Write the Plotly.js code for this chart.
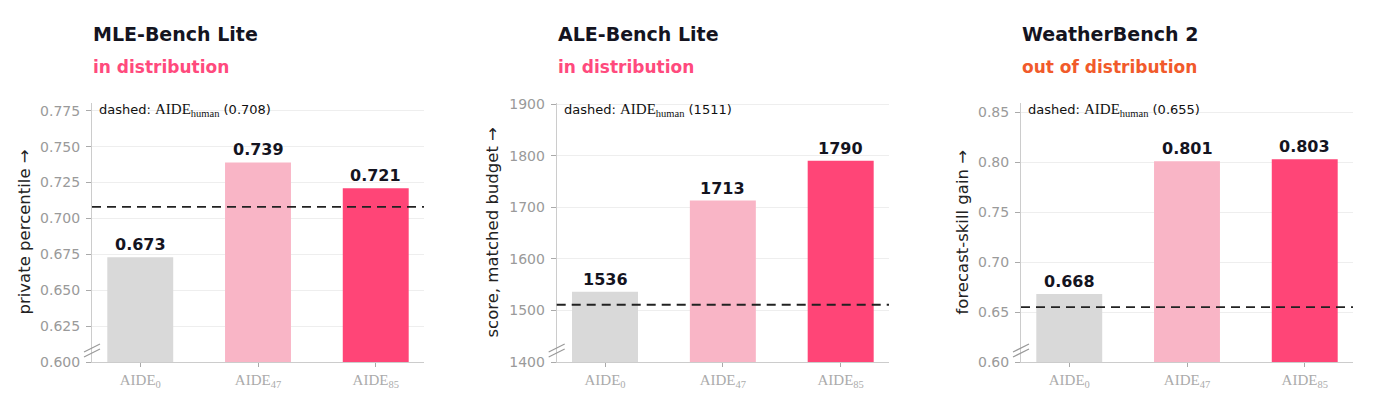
<!DOCTYPE html>
<html>
<head>
<meta charset="utf-8">
<script src="https://cdn.plot.ly/plotly-3.0.1.min.js"></script>
<style>html,body{margin:0;padding:0;background:#fff;}#chart{width:1391px;height:405px;}</style>
</head>
<body>
<div id="chart"></div>
<script>
// ---- data ----
const categories = ['AIDE<sub>0</sub>', 'AIDE<sub>47</sub>', 'AIDE<sub>85</sub>'];
const mleValues = [0.673, 0.739, 0.721];
const aleValues = [1536, 1713, 1790];
const weatherValues = [0.668, 0.801, 0.803];
const humanBaselines = [0.708, 1511, 0.655];
const panelTitles = ['MLE-Bench Lite', 'ALE-Bench Lite', 'WeatherBench 2'];
const panelSubtitles = ['in distribution', 'in distribution', 'out of distribution'];
const yTitles = ['private percentile →', 'score, matched budget →', 'forecast-skill gain →'];
const mleTicks = [0.600, 0.625, 0.650, 0.675, 0.700, 0.725, 0.750, 0.775];
const aleTicks = [1400, 1500, 1600, 1700, 1800, 1900];
const weatherTicks = [0.60, 0.65, 0.70, 0.75, 0.80, 0.85];

// ---- layout helpers ----
const W = 1391, H = 405;
const px = x => x / W;
const py = y => 1 - y / H;
const barColors = ['#d9d9d9', '#f9b5c6', '#ff4577'];
const subColors = ['#ff4a7d', '#ff4a7d', '#f15a2b'];
const panels = [
  {vals: mleValues, ticks: mleTicks, fmt: v => v.toFixed(3), tfmt: '.3f', range: [0.6, 0.7804], left: 92, right: 424, ytx: 24},
  {vals: aleValues, ticks: aleTicks, fmt: v => String(v), tfmt: 'd', range: [1400, 1902], left: 556.7, right: 889, ytx: 492},
  {vals: weatherValues, ticks: weatherTicks, fmt: v => v.toFixed(3), tfmt: '.2f', range: [0.6, 0.8593], left: 1021, right: 1353, ytx: 962}
];
const plotTop = 103, plotBottom = 362;

const traces = [];
const layout = {
  width: W, height: H,
  margin: {l: 0, r: 0, t: 0, b: 0},
  paper_bgcolor: '#ffffff', plot_bgcolor: '#ffffff',
  showlegend: false,
  annotations: [], shapes: [],
  font: {family: 'DejaVu Sans', color: '#222'}
};

panels.forEach((p, i) => {
  const n = i === 0 ? '' : String(i + 1);
  const xa = 'x' + n, ya = 'y' + n;
  traces.push({
    type: 'bar', x: [0, 1, 2], y: p.vals, xaxis: xa, yaxis: ya,
    width: 0.56, marker: {color: barColors, line: {width: 0}},
    hoverinfo: 'skip'
  });
  layout['xaxis' + n] = {
    domain: [px(p.left), px(p.right)], anchor: ya,
    range: [-0.41, 2.41], tickvals: [0, 1, 2], ticktext: categories,
    showline: true, linecolor: '#cccccc', linewidth: 1,
    ticks: 'outside', ticklen: 4, tickcolor: '#aaaaaa', tickwidth: 1,
    showgrid: false, zeroline: false, fixedrange: true,
    tickfont: {family: 'Liberation Serif', size: 15, color: '#ababab'}
  };
  layout['yaxis' + n] = {
    domain: [py(plotBottom), py(plotTop)], anchor: xa,
    range: p.range, tickvals: p.ticks, tickformat: p.tfmt,
    showline: true, linecolor: '#cccccc', linewidth: 1,
    ticks: 'outside', ticklen: 5, tickcolor: '#aaaaaa', tickwidth: 1,
    ticklabelstandoff: 3,
    showgrid: true, gridcolor: '#eeeeee', gridwidth: 1, zeroline: false, fixedrange: true,
    tickfont: {family: 'DejaVu Sans', size: 14, color: '#9a9a9a'}
  };
  // baseline dashed line
  layout.shapes.push({
    type: 'line', xref: xa + ' domain', yref: ya,
    x0: 0, x1: 1, y0: humanBaselines[i], y1: humanBaselines[i],
    line: {color: '#222222', width: 1.8, dash: '9px,6px'}
  });
  // axis break marks
  [0, 5].forEach(off => {
    layout.shapes.push({
      type: 'line', xref: xa + ' domain', yref: ya + ' domain',
      xsizemode: 'pixel', xanchor: 0, ysizemode: 'pixel', yanchor: 0,
      x0: -8, x1: 8, y0: 5 + off, y1: 13 + off,
      line: {color: '#999999', width: 1.2}
    });
  });
  // value labels
  p.vals.forEach((v, k) => {
    layout.annotations.push({
      xref: xa, yref: ya, x: k, y: v, text: '<b>' + p.fmt(v) + '</b>',
      showarrow: false, yanchor: 'bottom', yshift: 1,
      font: {family: 'DejaVu Sans', size: 16, color: '#14141f'}
    });
  });
  // dashed legend note
  layout.annotations.push({
    xref: 'paper', yref: 'paper', x: px(p.left + 5), y: py(110),
    xanchor: 'left', yanchor: 'middle', showarrow: false,
    text: 'dashed: <span style="font-family:Liberation Serif;font-size:15px">AIDE<sub>human</sub></span>' +
          '<span style="font-family:DejaVu Sans;font-size:13px"> (' + p.fmt(humanBaselines[i]) + ')</span>',
    font: {family: 'DejaVu Sans', size: 13, color: '#111111'}
  });
  // titles
  layout.annotations.push({
    xref: 'paper', yref: 'paper', x: px(p.left - 1), y: py(34),
    xanchor: 'left', yanchor: 'middle', showarrow: false,
    text: '<b>' + panelTitles[i] + '</b>',
    font: {family: 'DejaVu Sans', size: 19, color: '#14141f'}
  });
  layout.annotations.push({
    xref: 'paper', yref: 'paper', x: px(p.left - 1), y: py(67),
    xanchor: 'left', yanchor: 'middle', showarrow: false,
    text: '<b>' + panelSubtitles[i] + '</b>',
    font: {family: 'DejaVu Sans', size: 17, color: subColors[i]}
  });
  // y axis title
  layout.annotations.push({
    xref: 'paper', yref: 'paper', x: px(p.ytx), y: py((plotTop + plotBottom) / 2),
    xanchor: 'center', yanchor: 'middle', showarrow: false, textangle: -90,
    text: yTitles[i],
    font: {family: 'DejaVu Sans', size: 16.5, color: '#222222'}
  });
});

Plotly.newPlot('chart', traces, layout, {displayModeBar: false, staticPlot: true});
</script>
</body>
</html>
